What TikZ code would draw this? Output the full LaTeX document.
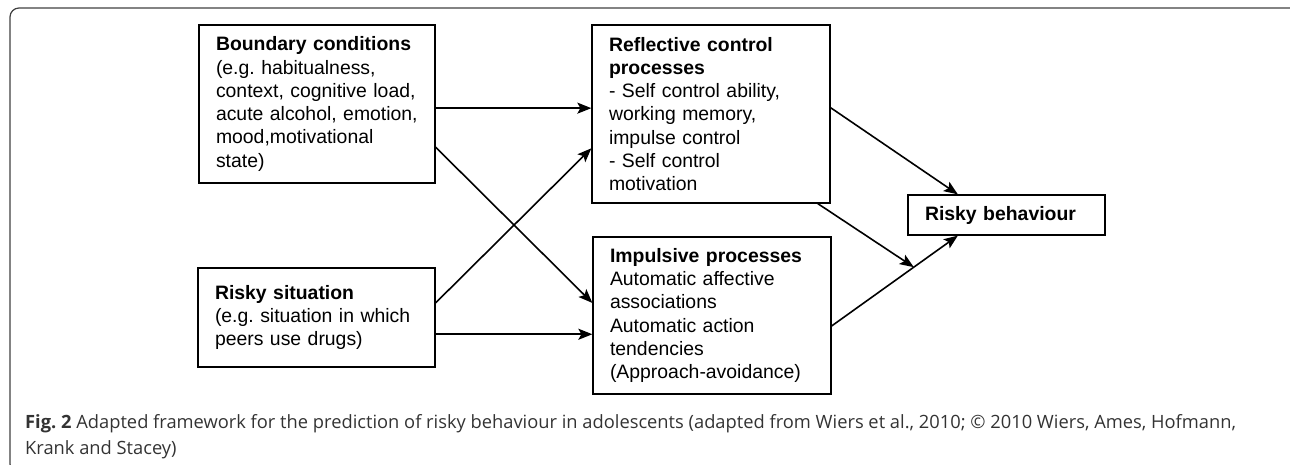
\documentclass[tikz,border=0pt]{standalone}
\usepackage{fontspec}
\setmainfont{Liberation Sans}
\newfontfamily\capfont{Open Sans}
\usetikzlibrary{arrows.meta}
\frenchspacing

\begin{document}
\begin{tikzpicture}[x=1pt, y=-1pt,
  box/.style={rectangle, draw, line width=1.3pt, inner xsep=17pt, inner ysep=0pt, align=left, font=\fontsize{19.4}{23.3}\selectfont},
  link/.style={draw, ->, line width=1.6pt},
  >={Stealth[length=14pt,width=11pt,inset=3pt]}
]
  \useasboundingbox (0,0) rectangle (1290,465);
  \clip (0,0) rectangle (1290,465);
  \draw[black!75, line width=1.2pt, rounded corners=9pt] (10,8) rectangle (1300,473);

  \node[box, text width=202pt, minimum height=158pt] (bound) at (317,104) {\textbf{Boundary conditions}\\(e.g. habitualness,\\context, cognitive load,\\acute alcohol, emotion,\\mood,motivational\\state)};
  \node[box, text width=203pt, minimum height=99pt] (sit) at (316.5,317.5) {\textbf{Risky situation}\\(e.g. situation in which\\peers use drugs)\par\vspace{13pt}};

  \node[box, text width=204pt, minimum height=178pt] (reflect) at (711,114) {\textbf{Reflective control}\\\textbf{processes}\\- Self control ability,\\working memory,\\impulse control\\- Self control\\motivation};
  \node[box, text width=204pt, minimum height=157pt] (impulse) at (712,315.5) {\textbf{Impulsive processes}\\Automatic affective\\associations\\Automatic action\\tendencies\\(Approach-avoidance)};

  \node[box, text width=163pt, minimum height=40pt] (risky) at (1006.5,215) {\textbf{Risky behaviour}};

  \draw[link] (bound.-2) -- (bound.-2 -| reflect.west);
  \draw[link] (bound.-20) -- (impulse.174);
  \draw[link] (sit.7) -- (reflect.196);
  \draw[link] (sit.-8) -- (sit.-8 -| impulse.west);
  \draw[link] (reflect.3) -- (risky.157);
  \draw[link] (impulse.-5) -- coordinate[pos=0.651] (moder) (risky.203);
  \draw[link] (reflect.-40) -- (moder);

  \node[anchor=base west, align=left, inner sep=0pt, text=black!80, font=\capfont\fontsize{18.3}{26}\selectfont] (caption) at (25,454) {\textbf{Fig. 2} Adapted framework for the prediction of risky behaviour in adolescents (adapted from Wiers et al., 2010; \textcopyright{} 2010 Wiers, Ames, Hofmann,\\Krank and Stacey)};
\end{tikzpicture}
\end{document}
